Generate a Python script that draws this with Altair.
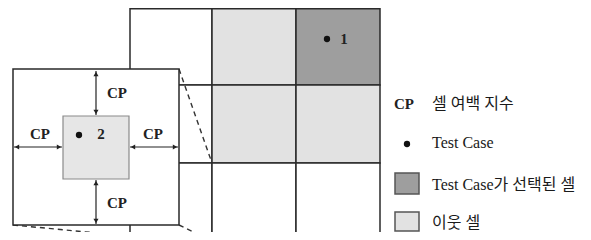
import altair as alt
import pandas as pd

# plot area placed at the page's 8px margin; data are in picture pixels
W, H = 575, 224
OX, OY = 8, 8

# ---- grid of cells ----
col_edges = [130, 212, 296, 380]
row_edges = [8.8, 85, 163, 243]
cell_kind = [["empty", "neighbor", "selected"],
             ["empty", "neighbor", "neighbor"],
             ["empty", "empty", "empty"]]
kind_domain = ["empty", "neighbor", "selected", "inner"]
kind_range = ["#ffffff", "#e2e2e2", "#9e9e9e", "#e6e6e6"]

# ---- zoomed inset ----
inset_box = [13, 179, 69, 225]          # x, x2, y, y2
inner_box = [63, 129, 116, 179]
dash_x = [179, 13, 179]
dash_y = [69, 225, 225]
dash_x2 = [212, 212, 212]
dash_y2 = [163, 244, 241]

arrow_x = [96, 96, 14, 130]
arrow_y = [71, 180, 147, 147]
arrow_x2 = [96, 96, 62, 178]
arrow_y2 = [115, 224, 147, 147]
head_x = [96, 96, 96, 96, 17, 59, 133, 175]
head_y = [74, 112, 183, 221, 147, 147, 147, 147]
head_dir = ["triangle-up", "triangle-down", "triangle-up", "triangle-down",
            "triangle-left", "triangle-right", "triangle-left", "triangle-right"]

dot_x = [79, 327, 407]
dot_y = [135, 39, 144]

bold_text = ["CP", "CP", "CP", "CP", "2", "1", "CP"]
bold_x = [117, 40, 153, 117, 101, 344, 404]
bold_y = [93, 134, 134, 203, 134, 39, 104]

legend_text = ["셀 여백 지수", "Test Case", "Test Case가 선택된 셀", "이웃 셀"]
legend_tx = [432, 432, 432, 432]
legend_ty = [104, 143, 185, 223]

legend_box_kind = ["selected", "neighbor"]
legend_box_x = [395, 395]
legend_box_x2 = [419, 419]
legend_box_y = [173, 212]
legend_box_y2 = [194, 231]

FONT = "Liberation Serif, Noto Sans CJK KR"

xs = alt.Scale(domain=[OX, OX + W], nice=False, zero=False)
ys = alt.Scale(domain=[OY, OY + H], nice=False, zero=False, reverse=True)


def X(f):
    return alt.X(f, type="quantitative", scale=xs, axis=None)


def Y(f):
    return alt.Y(f, type="quantitative", scale=ys, axis=None)


fill_enc = alt.Color("kind:N", scale=alt.Scale(domain=kind_domain, range=kind_range), legend=None)

cells = pd.DataFrame([
    dict(x=col_edges[c], x2=col_edges[c + 1], y=row_edges[r], y2=row_edges[r + 1], kind=cell_kind[r][c])
    for r in range(3) for c in range(3)
])
cell_layer = alt.Chart(cells).mark_rect(stroke="#2a2a2a", strokeWidth=1.5, opacity=1).encode(
    x=X("x"), x2="x2", y=Y("y"), y2="y2", color=fill_enc)

dashes = pd.DataFrame(dict(x=dash_x, y=dash_y, x2=dash_x2, y2=dash_y2))
dash_layer = alt.Chart(dashes).mark_rule(stroke="#333333", strokeWidth=1.4, strokeDash=[5, 4]).encode(
    x=X("x"), y=Y("y"), x2="x2", y2="y2")

inset = pd.DataFrame(dict(x=[inset_box[0]], x2=[inset_box[1]], y=[inset_box[2]], y2=[inset_box[3]]))
inset_layer = alt.Chart(inset).mark_rect(fill="#ffffff", stroke="#2a2a2a", strokeWidth=1.5, opacity=1).encode(
    x=X("x"), x2="x2", y=Y("y"), y2="y2")

inner = pd.DataFrame(dict(x=[inner_box[0]], x2=[inner_box[1]], y=[inner_box[2]], y2=[inner_box[3]], kind=["inner"]))
inner_layer = alt.Chart(inner).mark_rect(stroke="#8a8a8a", strokeWidth=1.2, opacity=1).encode(
    x=X("x"), x2="x2", y=Y("y"), y2="y2", color=fill_enc)

arrows = pd.DataFrame(dict(x=arrow_x, y=arrow_y, x2=arrow_x2, y2=arrow_y2))
arrow_layer = alt.Chart(arrows).mark_rule(stroke="#222222", strokeWidth=1.2).encode(
    x=X("x"), y=Y("y"), x2="x2", y2="y2")

heads = pd.DataFrame(dict(x=head_x, y=head_y, d=head_dir))
head_layer = alt.Chart(heads).mark_point(filled=True, size=26, color="#222222", opacity=1).encode(
    x=X("x"), y=Y("y"),
    shape=alt.Shape("d:N", scale=alt.Scale(domain=sorted(set(head_dir)), range=sorted(set(head_dir))), legend=None))

dots = pd.DataFrame(dict(x=dot_x, y=dot_y))
dot_layer = alt.Chart(dots).mark_circle(size=40, color="#111111", opacity=1).encode(x=X("x"), y=Y("y"))

btext = pd.DataFrame(dict(x=bold_x, y=bold_y, t=bold_text))
btext_layer = alt.Chart(btext).mark_text(font=FONT, fontSize=15, fontWeight="bold", color="#222222",
                                         align="center", baseline="middle").encode(
    x=X("x"), y=Y("y"), text="t:N")

ltext = pd.DataFrame(dict(x=legend_tx, y=legend_ty, t=legend_text))
ltext_layer = alt.Chart(ltext).mark_text(font=FONT, fontSize=16, color="#1a1a1a",
                                         align="left", baseline="middle").encode(
    x=X("x"), y=Y("y"), text="t:N")

lbox = pd.DataFrame(dict(x=legend_box_x, x2=legend_box_x2, y=legend_box_y, y2=legend_box_y2, kind=legend_box_kind))
lbox_layer = alt.Chart(lbox).mark_rect(stroke="#555555", strokeWidth=1.5, opacity=1).encode(
    x=X("x"), x2="x2", y=Y("y"), y2="y2", color=fill_enc)

chart = alt.layer(
    cell_layer, dash_layer, inset_layer, inner_layer, arrow_layer, head_layer,
    dot_layer, btext_layer, ltext_layer, lbox_layer
).properties(
    width=W, height=H, padding=0, autosize=alt.AutoSizeParams(type="none")
).configure_view(strokeWidth=0)

chart.save("out.html", embed_options={"renderer": "svg", "actions": False})
